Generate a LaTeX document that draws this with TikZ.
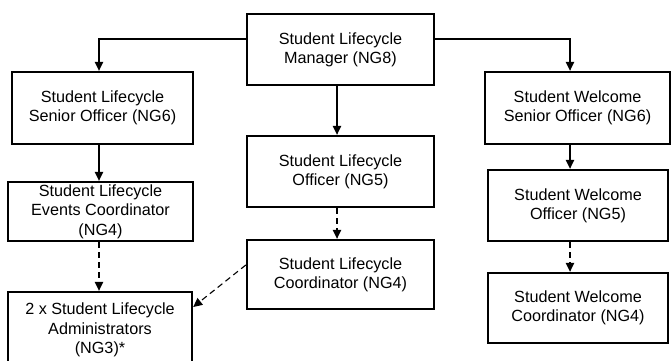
\documentclass[tikz,border=0pt]{standalone}
\usepackage{fontspec}
\setmainfont{Liberation Sans}
\usetikzlibrary{arrows.meta}
\begin{document}
\begin{tikzpicture}[x=1pt,y=-1pt,
  box/.style={draw, line width=2.4pt, inner sep=0pt, align=center, font=\fontsize{16.2}{19.3}\selectfont},
  arr/.style={line width=1.1pt, -{Triangle[length=9pt,width=8.5pt]}},
  darr/.style={arr, dash pattern=on 6pt off 4pt}]
\useasboundingbox (0,0) rectangle (671,360);
\node[box, minimum width=187pt, minimum height=71pt] (mgr) at (340.5,49.5) {Student Lifecycle\\Manager (NG8)};
\node[box, minimum width=181pt, minimum height=72pt] (lso) at (102.5,108) {Student Lifecycle\\Senior Officer (NG6)};
\node[box, minimum width=185pt, minimum height=59pt] (lec) at (100.5,211.5) {Student Lifecycle\\Events Coordinator\\(NG4)};
\node[box, minimum width=184pt, minimum height=76pt] (adm) at (100,330) {2 x Student Lifecycle\\Administrators\\(NG3)*};
\node[box, minimum width=187pt, minimum height=71pt] (lo) at (340.5,171.5) {Student Lifecycle\\Officer (NG5)};
\node[box, minimum width=187pt, minimum height=69pt] (lc) at (340.5,274.5) {Student Lifecycle\\Coordinator (NG4)};
\node[box, minimum width=185pt, minimum height=72pt] (wso) at (577.5,108) {Student Welcome\\Senior Officer (NG6)};
\node[box, minimum width=180pt, minimum height=71pt] (wo) at (578,205.5) {Student Welcome\\Officer (NG5)};
\node[box, minimum width=180pt, minimum height=70pt] (wc) at (578,308) {Student Welcome\\Coordinator (NG4)};
\draw[arr] ([yshift=10.5pt]mgr.west) -| ([xshift=-3.5pt]lso.north);
\draw[arr] ([yshift=10.5pt]mgr.east) -| ([xshift=-7.5pt]wso.north);
\draw[arr] ([xshift=-3.5pt]mgr.south) -- ([xshift=-3.5pt]lo.north);
\draw[darr] ([xshift=-3.5pt]lo.south) -- ([xshift=-3.5pt]lc.north);
\draw[arr] ([xshift=-3.5pt]lso.south) -- ([xshift=-1.5pt]lec.north);
\draw[darr] ([xshift=-1.5pt]lec.south) -- ([xshift=-1pt]adm.north);
\draw[darr] ([yshift=9.5pt]lc.west) -- ([yshift=23pt]adm.east);
\draw[arr] ([xshift=-7.5pt]wso.south) -- ([xshift=-8pt]wo.north);
\draw[darr] ([xshift=-8pt]wo.south) -- ([xshift=-8pt]wc.north);
\end{tikzpicture}
\end{document}
